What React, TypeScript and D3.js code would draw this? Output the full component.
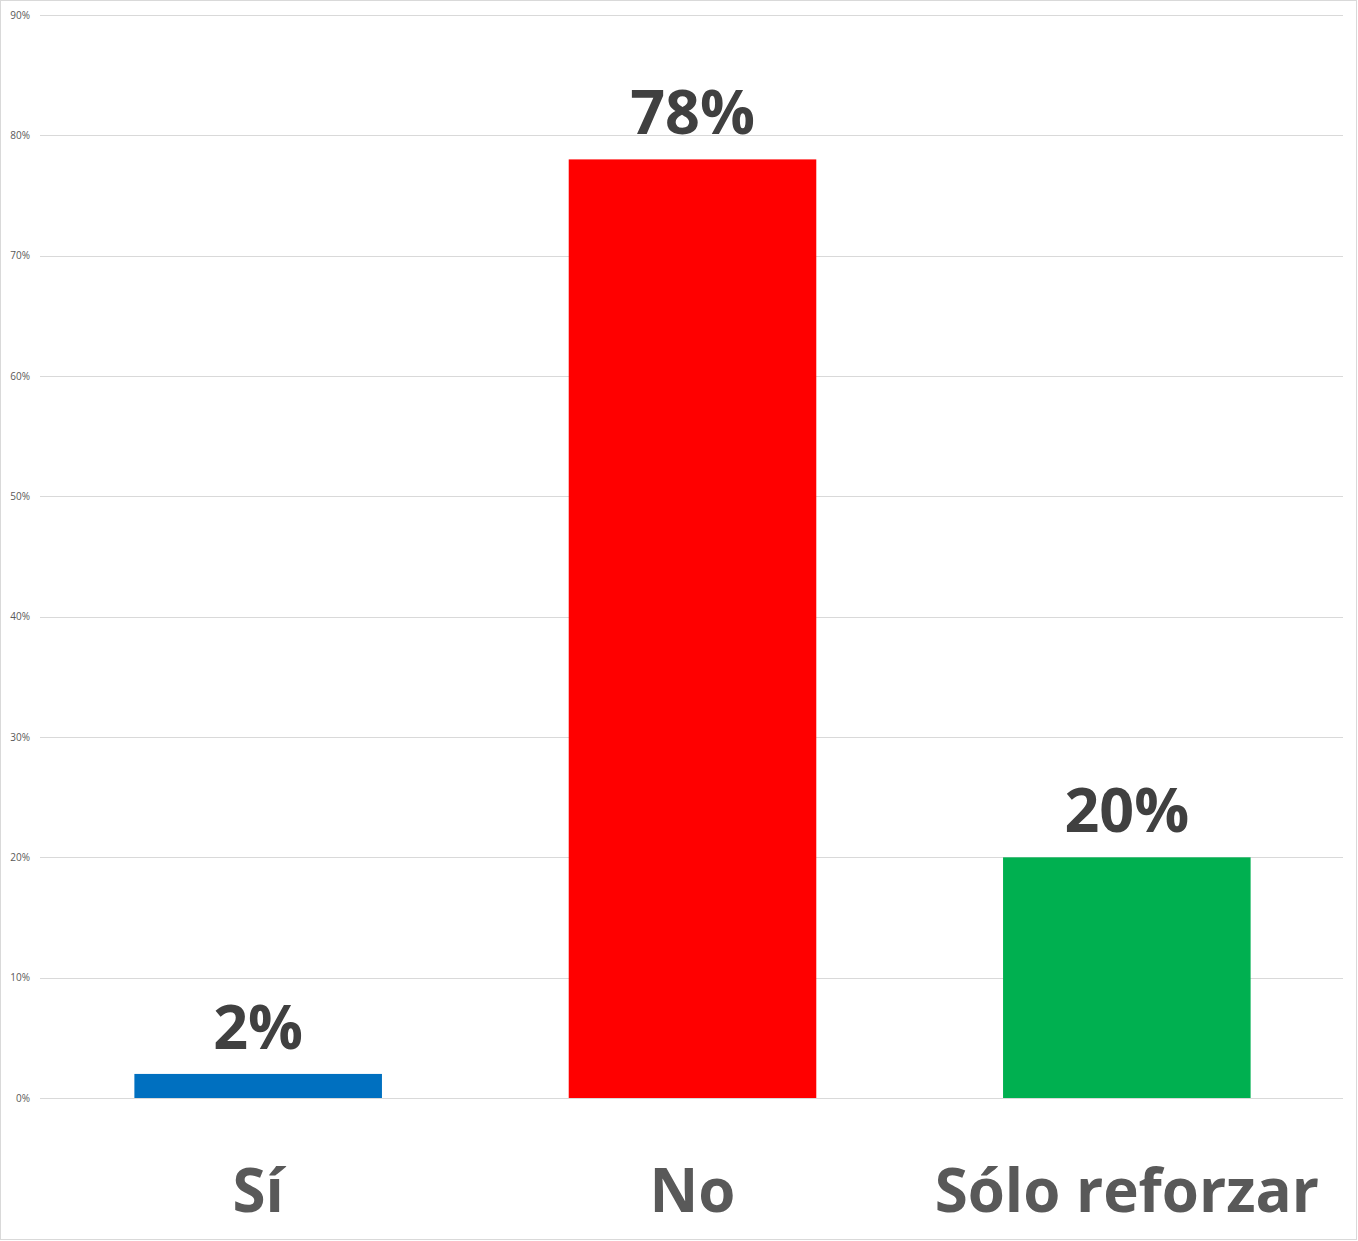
import React from "react";
import * as d3 from "d3";

const categories = ["Sí", "No", "Sólo reforzar"];
const values = [0.02, 0.78, 0.2];
const barColors = ["#0070C0", "#FF0000", "#00B050"];
const tickValues = [0, 0.1, 0.2, 0.3, 0.4, 0.5, 0.6, 0.7, 0.8, 0.9];

const W = 1358;
const H = 1241;
const left = 40;
const right = 1343;
const top = 15;
const bottom = 1098;

export default function App() {
  const x = d3.scaleBand<string>().domain(categories).range([left + 1, right + 1]).paddingInner(0.43).paddingOuter(0.215);
  const y = d3.scaleLinear().domain([0, 0.9]).range([bottom, top]);
  const fmt = d3.format(".0%");
  const font = "'Open Sans', sans-serif";
  return (
    <svg width={W} height={H} style={{ position: "absolute", left: 0, top: 0 }} fontFamily={font}>
      <rect x={0} y={0} width={W} height={H} fill="#fff" />
      <rect x={0.5} y={0.5} width={1356} height={1239} fill="none" stroke="#d9d9d9" />
      {tickValues.map((t) => (
        <g key={t}>
          <line x1={left} x2={right} y1={Math.round(y(t)) + 0.5} y2={Math.round(y(t)) + 0.5} stroke="#d9d9d9" />
          <text x={30} y={y(t) + 3.5} textAnchor="end" fontSize={10} fill="#595959">
            {fmt(t)}
          </text>
        </g>
      ))}
      {categories.map((c, i) => (
        <g key={c}>
          <rect x={x(c)} y={y(values[i])} width={x.bandwidth()} height={bottom - y(values[i])} fill={barColors[i]} />
          <text
            x={(x(c) as number) + x.bandwidth() / 2}
            y={y(values[i]) - 25}
            textAnchor="middle"
            fontSize={61}
            fontWeight="bold"
            fill="#404040"
          >
            {fmt(values[i])}
          </text>
          <text
            x={(x(c) as number) + x.bandwidth() / 2}
            y={1212}
            textAnchor="middle"
            fontSize={60}
            fontWeight="bold"
            fill="#595959"
          >
            {c}
          </text>
        </g>
      ))}
    </svg>
  );
}
